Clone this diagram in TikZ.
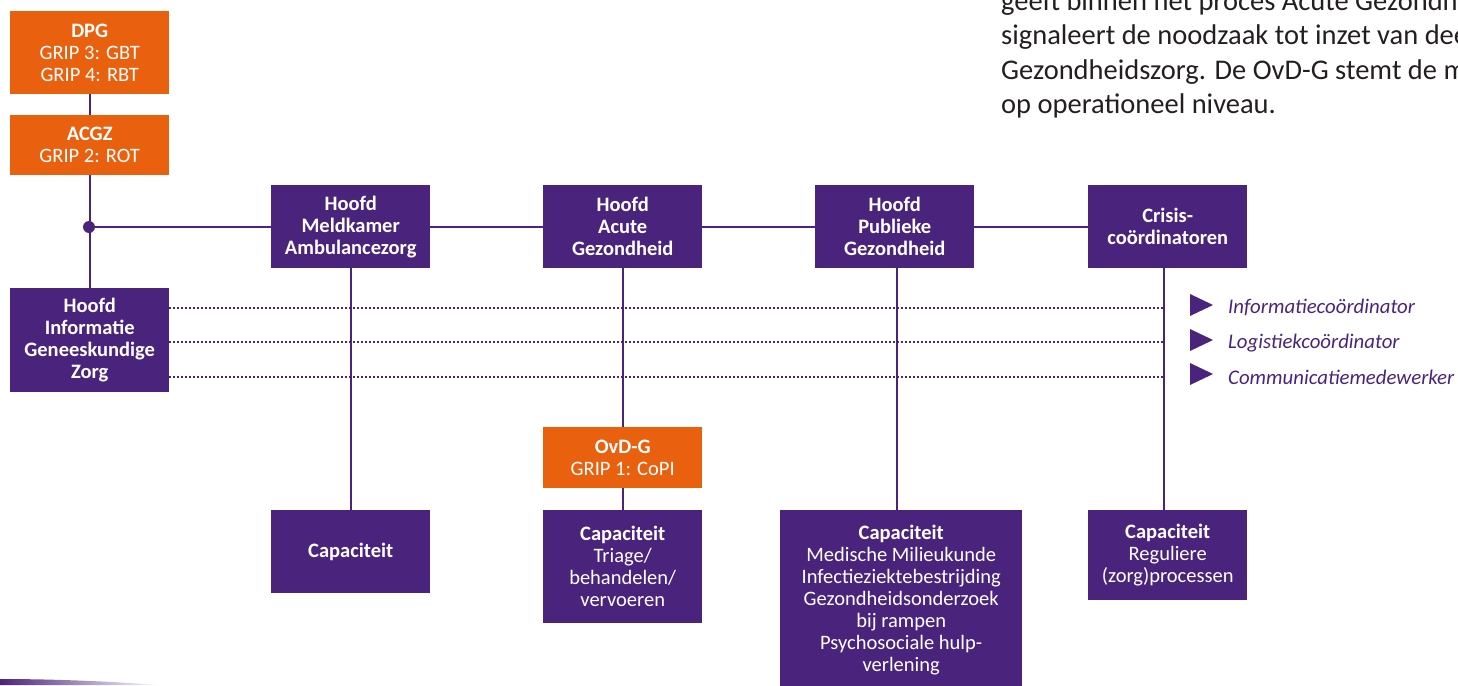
\documentclass[tikz,border=0pt]{standalone}
\usepackage{fontspec}
\setmainfont{Carlito}
\definecolor{vp}{RGB}{74,36,124}
\definecolor{vo}{RGB}{233,96,14}
\definecolor{txt}{RGB}{35,31,32}
\begin{document}
\begin{tikzpicture}[x=1pt,y=-1pt,
 box/.style={inner sep=0pt, align=center, text=white, font=\fontsize{20.5}{22}\selectfont, anchor=north west},
 pbox/.style={box, fill=vp},
 obox/.style={box, fill=vo},
 conn/.style={draw=vp, line width=2pt},
 dots/.style={draw=vp, line width=1.3pt, dash pattern=on 1.3pt off 2.7pt},
 lab/.style={text=vp, font=\fontsize{20.8}{22}\selectfont\itshape, anchor=west, inner sep=0pt},
 para/.style={text=txt, font=\fontsize{28.5}{34}\selectfont, anchor=base west, inner sep=0pt}
]
\useasboundingbox (0,0) rectangle (1458,685);
\clip (0,0) rectangle (1458,685);

% paragraph (cut off at the picture's edges)
\node[para] (p1) at (1001,11) {geeft binnen het proces Acute Gezondhe};
\node[para] (p2) at (1001,45) {signaleert de noodzaak tot inzet van dee};
\node[para] (p3) at (1001,79) {Gezondheidszorg. De OvD-G stemt de mu};
\node[para] (p4) at (1001,113) {op operationeel niveau.};

% left column
\node[obox, minimum width=159pt, minimum height=83pt] (DPG) at (10,11) {\textbf{DPG}\\GRIP 3: GBT\\GRIP 4: RBT};
\node[obox, minimum width=159pt, minimum height=60pt] (ACGZ) at (10,115) {\textbf{ACGZ}\\GRIP 2: ROT};
\node[pbox, minimum width=159pt, minimum height=104pt] (HIGZ) at (10,288) {\textbf{Hoofd}\\\textbf{Informatie}\\\textbf{Geneeskundige}\\\textbf{Zorg}};

% top row
\node[pbox, minimum width=159pt, minimum height=83pt] (HMA) at (271,185) {\textbf{Hoofd}\\\textbf{Meldkamer}\\\textbf{Ambulancezorg}};
\node[pbox, minimum width=159pt, minimum height=83pt] (HAG) at (543,185) {\textbf{Hoofd}\\\textbf{Acute}\\\textbf{Gezondheid}};
\node[pbox, minimum width=159pt, minimum height=83pt] (HPG) at (815,185) {\textbf{Hoofd}\\\textbf{Publieke}\\\textbf{Gezondheid}};
\node[pbox, minimum width=159pt, minimum height=83pt] (CC) at (1088,185) {\textbf{Crisis-}\\\textbf{coördinatoren}};

% OvD-G
\node[obox, minimum width=159pt, minimum height=61pt] (OVD) at (543,427) {\textbf{OvD-G}\\GRIP 1: CoPI};

% capacity row
\node[pbox, minimum width=159pt, minimum height=83pt] (C1) at (271,510) {\textbf{Capaciteit}};
\node[pbox, minimum width=159pt, minimum height=113pt] (C2) at (543,510) {\textbf{Capaciteit}\\Triage/\\behandelen/\\vervoeren};
\node[pbox, minimum width=242pt, minimum height=180pt] (C3) at (780,510) {\textbf{Capaciteit}\\Medische Milieukunde\\Infectieziektebestrijding\\Gezondheidsonderzoek\\bij rampen\\Psychosociale hulp-\\verlening};
\node[pbox, minimum width=159pt, minimum height=90pt] (C4) at (1088,510) {\textbf{Capaciteit}\\Reguliere\\(zorg)processen};

% connectors
\coordinate (J) at (89,227);
\draw[conn] (DPG.south) -- (ACGZ.north);
\draw[conn] (ACGZ.south) -- (HIGZ.north);
\draw[conn] (J) -- (J -| HMA.west);
\draw[conn] (HMA.east) -- (HAG.west);
\draw[conn] (HAG.east) -- (HPG.west);
\draw[conn] (HPG.east) -- (CC.west);
\draw[conn] (HMA.south) -- (C1.north);
\draw[conn] (HAG.south) -- (OVD.north);
\draw[conn] (OVD.south) -- (C2.north);
\coordinate (HPGb) at (897,268);
\draw[conn] (HPGb) -- (HPGb |- C3.north);
\coordinate (CCb) at (1164,268);
\draw[conn] (CCb) -- (CCb |- C4.north);
\fill[vp] (J) circle (6pt);

% dotted information lines
\coordinate (d1) at (1164,308);
\coordinate (d2) at (1164,342);
\coordinate (d3) at (1164,377);
\draw[dots] (HIGZ.east |- d1) -- (d1);
\draw[dots] (HIGZ.east |- d2) -- (d2);
\draw[dots] (HIGZ.east |- d3) -- (d3);

% coordinator labels
\fill[vp] (1190,294) -- (1213,305) -- (1190,316) -- cycle;
\fill[vp] (1190,329) -- (1213,340) -- (1190,351) -- cycle;
\fill[vp] (1190,363) -- (1213,374) -- (1190,385) -- cycle;
\node[lab] (L1) at (1228,307) {Informatiecoördinator};
\node[lab] (L2) at (1228,343) {Logistiekcoördinator};
\node[lab] (L3) at (1228,377) {Communicatiemedewerker};

% bottom-left swoosh
\shade[left color=vp, right color=white] (0,685) -- (0,679) .. controls (60,679) and (120,682) .. (160,685) -- cycle;
\end{tikzpicture}
\end{document}
